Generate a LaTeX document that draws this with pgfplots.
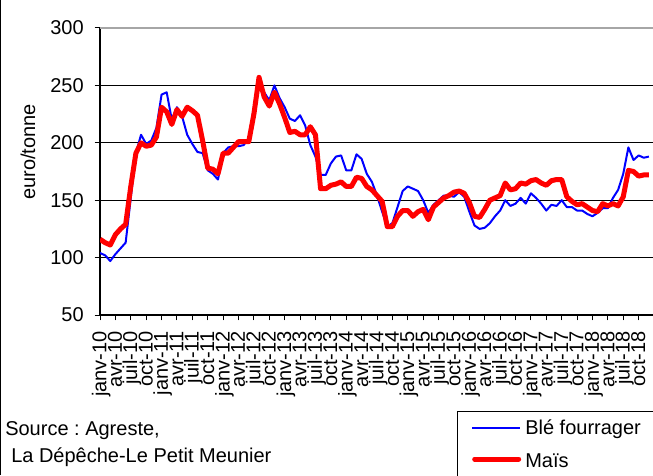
\documentclass[border=0pt]{standalone}
\usepackage{fontspec}
\setmainfont{Liberation Sans}
\usepackage{pgfplots}
\pgfplotsset{compat=1.18}
\newcommand\ff{\fontsize{15}{18}\selectfont}
\frenchspacing
\begin{document}
\begin{tikzpicture}
\useasboundingbox (0,0) rectangle (489.75pt,356.25pt);
\begin{axis}[
 at={(75pt,120pt)}, anchor=south west,
 width=414.75pt, height=215.25pt, scale only axis,
 xmin=0, xmax=107.8, ymin=50, ymax=300,
 axis x line*=bottom, axis y line*=left,
 axis line style={black, line width=1.2pt},
 tick align=outside, major tick length=4pt,
 tick style={black, line width=0.75pt},
 xtick={0,3,...,105},
 xticklabels={janv-10,avr-10,juil-10,oct-10,janv-11,avr-11,juil-11,oct-11,janv-12,avr-12,juil-12,oct-12,janv-13,avr-13,juil-13,oct-13,janv-14,avr-14,juil-14,oct-14,janv-15,avr-15,juil-15,oct-15,janv-16,avr-16,juil-16,oct-16,janv-17,avr-17,juil-17,oct-17,janv-18,avr-18,juil-18,oct-18},
 ytick={50,100,...,250},
 extra y ticks={300},
 extra y tick style={grid style={gray!70, line width=1.5pt}},
 ymajorgrids, grid style={black, line width=0.75pt},
 tick label style={font=\ff, inner sep=0pt},
 /pgf/number format/assume math mode=true,
 xticklabel style={xshift=2.25pt, yshift=-8pt, rotate=90, anchor=east, text height=0.72em, text depth=0.21em},
 yticklabel style={xshift=-8pt},
]
\addplot[blue, line width=1.5pt, line join=round] coordinates {
(0,104)(1,102)(2,97)(3,103)(4,108)(5,113)(6,152)(7,191)(8,207)(9,199)(10,202)(11,213)
(12,242)(13,244)(14,220)(15,231)(16,223)(17,207)(18,199)(19,192)(20,191)(21,176)(22,173)(23,168)
(24,191)(25,196)(26,197)(27,197)(28,198)(29,204)(30,231)(31,253)(32,244)(33,237)(34,250)(35,239)
(36,231)(37,221)(38,219)(39,224)(40,215)(41,198)(42,188)(43,172)(44,172)(45,182)(46,188)(47,189)
(48,176)(49,176)(50,190)(51,186)(52,173)(53,166)(54,154)(55,140)(56,127)(57,130)(58,144)(59,158)
(60,162)(61,160)(62,158)(63,150)(64,139)(65,146)(66,150)(67,154)(68,154)(69,153)(70,157)(71,153)
(72,140)(73,128)(74,125)(75,126)(76,130)(77,136)(78,141)(79,150)(80,145)(81,147)(82,152)(83,147)
(84,156)(85,152)(86,147)(87,141)(88,146)(89,145)(90,150)(91,144)(92,144)(93,141)(94,141)(95,138)
(96,136)(97,139)(98,143)(99,143)(100,152)(101,159)(102,173)(103,196)(104,185)(105,189)(106,187)(107,188)
};
\addplot[red, line width=3.75pt, line join=round] coordinates {
(0,116)(1,113)(2,111)(3,120)(4,125)(5,129)(6,162)(7,191)(8,200)(9,197)(10,198)(11,205)
(12,231)(13,227)(14,216)(15,229)(16,223)(17,231)(18,228)(19,224)(20,202)(21,178)(22,177)(23,173)
(24,191)(25,191)(26,196)(27,201)(28,201)(29,201)(30,225)(31,257)(32,240)(33,232)(34,244)(35,234)
(36,222)(37,209)(38,210)(39,207)(40,207)(41,214)(42,207)(43,160)(44,160)(45,163)(46,164)(47,166)
(48,162)(49,162)(50,170)(51,169)(52,162)(53,159)(54,154)(55,149)(56,127)(57,127)(58,136)(59,141)
(60,141)(61,136)(62,140)(63,142)(64,133)(65,144)(66,148)(67,152)(68,154)(69,157)(70,158)(71,156)
(72,148)(73,136)(74,135)(75,142)(76,150)(77,152)(78,154)(79,165)(80,159)(81,160)(82,165)(83,164)
(84,167)(85,168)(86,165)(87,163)(88,167)(89,168)(90,168)(91,153)(92,149)(93,146)(94,147)(95,144)
(96,141)(97,140)(98,147)(99,145)(100,147)(101,145)(102,153)(103,176)(104,175)(105,171)(106,172)(107,172)
};
\end{axis}
\draw[black, line width=1pt] (0.5pt,0) -- (0.5pt,356.25pt);
\node[font=\ff, anchor=base west, inner sep=0pt] at (3.75pt,30pt) {Source : Agreste,};
\node[font=\ff, anchor=base west, inner sep=0pt] at (8.25pt,9.75pt) {La Dépêche-Le Petit Meunier};
\node[font=\ff, rotate=90, anchor=base, inner sep=0pt] at (26.25pt,242.25pt) {euro/tonne};
\draw[black, line width=0.75pt] (342.75pt,-5pt) rectangle (495pt,48pt);
\draw[blue, line width=1.5pt] (354pt,35.25pt) -- (390pt,35.25pt);
\draw[red, line width=3.75pt, line cap=round] (356pt,12pt) -- (389pt,12pt);
\node[font=\ff, anchor=base west, inner sep=0pt] at (393.75pt,30.75pt) {Blé fourrager};
\node[font=\ff, anchor=base west, inner sep=0pt] at (393.75pt,6pt) {Maïs};
\end{tikzpicture}
\end{document}
